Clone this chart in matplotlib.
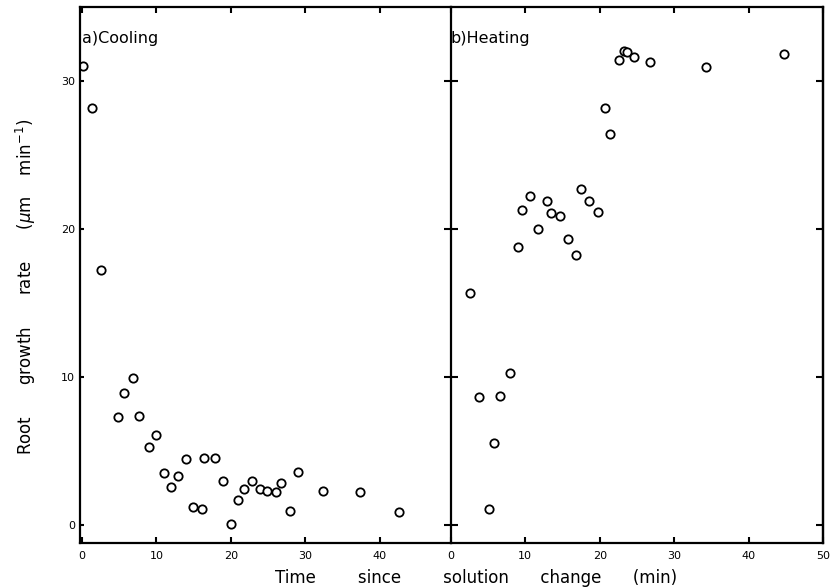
import numpy as np
import matplotlib.pyplot as plt

# cooling: time (min), root growth rate (um/min)
cool_t = [0.1, 1.3, 2.6, 4.9, 5.6, 6.8, 7.7, 9.0, 9.9, 11.0, 12.0, 12.9, 14.0, 14.9,
          16.1, 16.4, 17.8, 18.9, 20.0, 20.9, 21.8, 22.8, 23.9, 24.9, 26.0, 26.7,
          27.9, 29.0, 32.4, 37.3, 42.5]
cool_r = [31.0, 28.2, 17.25, 7.3, 8.9, 9.9, 7.35, 5.25, 6.1, 3.5, 2.55, 3.3, 4.45, 1.2,
          1.1, 4.5, 4.5, 3.0, 0.05, 1.7, 2.4, 2.95, 2.45, 2.3, 2.25, 2.85,
          0.95, 3.55, 2.3, 2.2, 0.9]

# heating
heat_t = [2.6, 3.8, 5.1, 5.8, 6.6, 8.0, 9.0, 9.6, 10.6, 11.7, 12.9, 13.5, 14.7, 15.7,
          16.8, 17.5, 18.5, 19.8, 20.7, 21.4, 22.6, 23.3, 23.6, 24.6, 26.8, 34.3, 44.7]
heat_r = [15.7, 8.65, 1.05, 5.55, 8.7, 10.25, 18.8, 21.3, 22.2, 20.0, 21.9, 21.1, 20.9, 19.35,
          18.25, 22.7, 21.9, 21.15, 28.15, 26.4, 31.45, 32.0, 31.95, 31.65, 31.3, 30.95, 31.8]

yticks = [0, 10, 20, 30]

plt.rcParams['font.family'] = 'DejaVu Sans'
fig = plt.figure(figsize=(8.3, 5.88), dpi=100)
ax1 = fig.add_axes([0.096, 0.077, 0.447, 0.911])
ax2 = fig.add_axes([0.543, 0.077, 0.449, 0.911])
ax2.patch.set_visible(False)

for ax in (ax1, ax2):
    for s in ax.spines.values():
        s.set_linewidth(1.6)
    ax.set_ylim(-1.2, 35)
    ax.set_yticks(yticks)
    ax.xaxis.set_ticks_position('both')
    ax.tick_params(axis='x', direction='in', length=4, width=1.5, labelsize=8, pad=6)

ax1.plot(cool_t, cool_r, 'o', mfc='white', mec='black', ms=6, mew=1.3)
ax2.plot(heat_t, heat_r, 'o', mfc='white', mec='black', ms=6, mew=1.3)

ax1.set_xlim(-0.3, 49.5)
ax1.set_xticks([0, 10, 20, 30, 40])
ax1.spines['right'].set_visible(False)
ax1.tick_params(axis='y', left=True, right=False, direction='in', length=3, width=1.5, labelsize=8)

ax2.set_xlim(0, 50)
ax2.set_xticks([0, 10, 20, 30, 40, 50])
ax2.tick_params(axis='y', left=True, right=False, labelleft=False, direction='inout',
                length=10, width=1.5)
sec = ax2.secondary_yaxis('right')
sec.set_yticks(yticks)
sec.spines['right'].set_linewidth(1.6)
sec.tick_params(direction='in', length=5, width=1.5, labelright=False)

ax1.text(0.0, 32.9, 'a)Cooling', fontsize=11.5, ha='left', va='center')
ax2.text(0.0, 32.9, 'b)Heating', fontsize=11.5, ha='left', va='center')

ax1.set_ylabel(r'Root      growth      rate      ($\mu$m    min$^{-1}$)', fontsize=12)
ax1.yaxis.set_label_coords(-0.112, 0.478)
fig.text(0.573, 0.017, 'Time        since        solution      change      (min)',
         fontsize=12, ha='center', va='center')

fig.savefig('out.png', dpi=100)
